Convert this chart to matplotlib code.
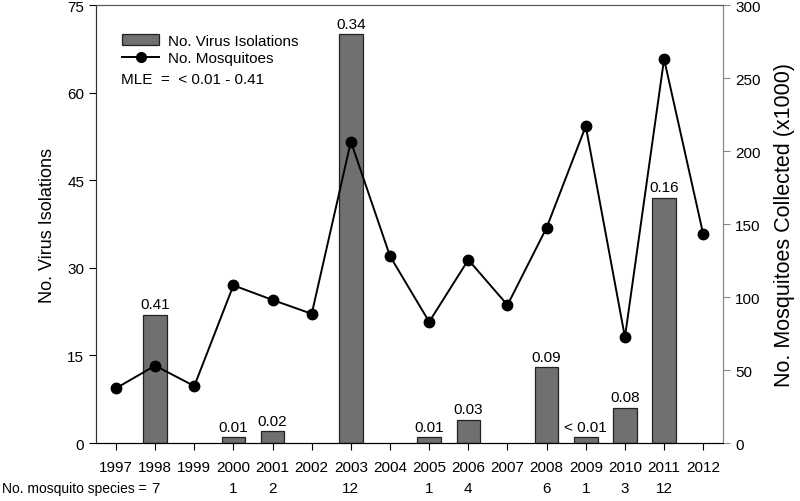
import matplotlib
matplotlib.use("Agg")
import matplotlib.pyplot as plt
from matplotlib.lines import Line2D
from matplotlib.patches import Patch
import matplotlib.transforms as mtransforms

plt.rcParams['font.family'] = ['Liberation Sans', 'DejaVu Sans']

years = [1997, 1998, 1999, 2000, 2001, 2002, 2003, 2004, 2005, 2006, 2007, 2008, 2009, 2010, 2011, 2012]
isolations = [0, 22, 0, 1, 2, 0, 70, 0, 1, 4, 0, 13, 1, 6, 42, 0]
mosquitoes = [37.5, 53, 39, 108, 98, 88.5, 206.5, 128, 83, 125.5, 94.5, 147.5, 217, 72.5, 263, 143]
mle_labels = ["", "0.41", "", "0.01", "0.02", "", "0.34", "", "0.01", "0.03", "", "0.09", "< 0.01", "0.08", "0.16", ""]
species_years = [1998, 2000, 2001, 2003, 2005, 2006, 2008, 2009, 2010, 2011]
species_vals = ["7", "1", "2", "12", "1", "4", "6", "1", "3", "12"]

fig = plt.figure(figsize=(8.0, 5.02), dpi=100)
ax = fig.add_axes([0.12, 0.1155, 0.784, 0.8725])
ax2 = ax.twinx()

bar_color = "#707070"
bx = [y for y, v in zip(years, isolations) if v > 0]
bv = [v for v in isolations if v > 0]
ax.bar(bx, bv, width=0.6, color=bar_color, edgecolor="#222222", linewidth=0.9, zorder=2)
for x, v, lab in zip(years, isolations, mle_labels):
    if lab:
        ax.text(x, v + 0.6, lab, ha="center", va="bottom", fontsize=11)

ax2.plot(years, mosquitoes, color="black", linewidth=1.4, marker="o", markersize=7.5, zorder=3)

ax.set_xlim(1996.49, 2012.51)
ax.set_ylim(0, 75)
ax2.set_ylim(0, 300)
ax.set_xticks(years)
ax.set_xticklabels([str(y) for y in years], fontsize=11)
ax.set_yticks([0, 15, 30, 45, 60, 75])
ax.tick_params(axis="y", labelsize=11, length=5, direction="out")
ax.tick_params(axis="x", length=5, direction="out", pad=7)
ax2.set_yticks([0, 50, 100, 150, 200, 250, 300])
ax2.tick_params(axis="y", labelsize=11, length=5, direction="out", color="#888888")

ax.set_ylabel("No. Virus Isolations", fontsize=13, labelpad=8)
ax2.set_ylabel("No. Mosquitoes Collected (x1000)", fontsize=15.5, labelpad=10)

for a in (ax, ax2):
    a.spines["top"].set_color("#555555")
    a.spines["left"].set_color("#333333")
    a.spines["right"].set_color("#888888")
    a.spines["bottom"].set_color("black")

# legend
handles = [Patch(facecolor=bar_color, edgecolor="#222222", linewidth=0.9),
           Line2D([0], [0], color="black", linewidth=1.4, marker="o", markersize=7)]
ax2.legend(handles, ["No. Virus Isolations", "No. Mosquitoes"], loc="upper left",
           bbox_to_anchor=(0.02, 0.965), frameon=False, fontsize=11,
           handlelength=2.4, handletextpad=0.6, labelspacing=0.2)
ax2.text(0.04, 0.83, "MLE  =  < 0.01 - 0.41", transform=ax2.transAxes, fontsize=11, va="center")

# species row
trans = mtransforms.blended_transform_factory(ax.transData, fig.transFigure)
fig.text(0.003, 0.025, "No. mosquito species =", fontsize=10, va="center", ha="left")
for x, s in zip(species_years, species_vals):
    ax.text(x, 0.025, s, transform=trans, ha="center", va="center", fontsize=11)

fig.savefig("out.png", dpi=100)
